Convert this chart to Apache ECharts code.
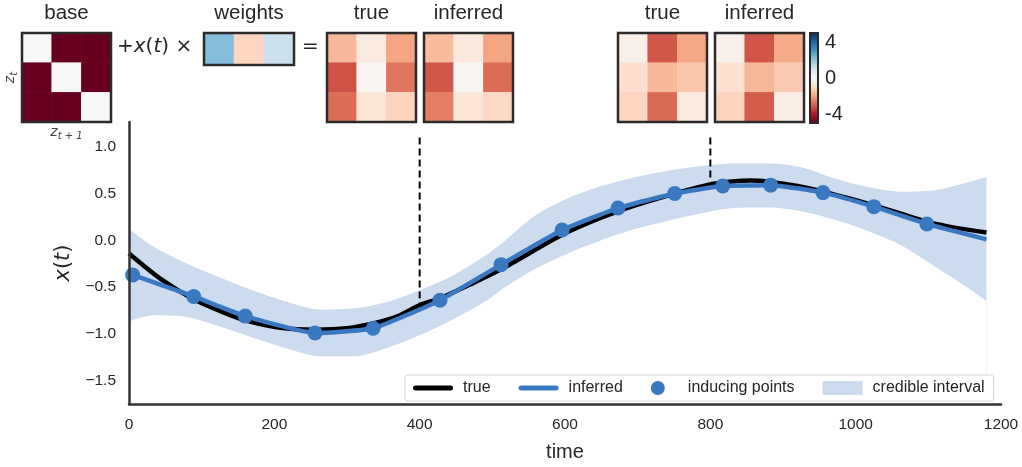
<!DOCTYPE html>
<html><head><meta charset="utf-8">
<script src="https://cdn.jsdelivr.net/npm/echarts@6/dist/echarts.min.js"></script>
<style>html,body{margin:0;padding:0;background:#fff}#c{width:1022px;height:467px}</style>
</head><body><div id="c"></div>
<script>
// ---------- data ----------
const xTicks = [0, 200, 400, 600, 800, 1000, 1200];
const yTicks = [-1.5, -1.0, -0.5, 0.0, 0.5, 1.0];
const cbarTicks = [-4, 0, 4];

const trueT = [0, 45, 89, 130, 160, 208, 256, 300, 336, 370, 401, 428, 470, 512, 555, 596, 636, 673, 712, 751, 780, 804, 830, 855, 883, 920, 955, 990, 1025, 1060, 1098, 1140, 1180];
const trueX = [-0.14, -0.42, -0.63, -0.77, -0.856, -0.935, -0.955, -0.94, -0.89, -0.81, -0.69, -0.62, -0.47, -0.31, -0.12, 0.06, 0.2, 0.31, 0.41, 0.50, 0.56, 0.605, 0.63, 0.64, 0.625, 0.58, 0.52, 0.45, 0.373, 0.29, 0.20, 0.13, 0.084];

const infT = [0, 5, 89, 160, 256, 336, 428, 512, 596, 673, 751, 817, 883, 955, 1025, 1098, 1180];
const infX = [-0.36, -0.37, -0.60, -0.81, -0.99, -0.94, -0.64, -0.26, 0.11, 0.345, 0.50, 0.58, 0.59, 0.51, 0.36, 0.175, 0.01];

const indT = [5, 89, 160, 256, 336, 428, 512, 596, 673, 751, 817, 883, 955, 1025, 1098];
const indX = [-0.37, -0.60, -0.81, -0.99, -0.94, -0.64, -0.26, 0.11, 0.345, 0.50, 0.58, 0.59, 0.51, 0.36, 0.175];

const bandT  = [0, 34, 80, 126, 172, 218, 263, 309, 355, 401, 447, 493, 512, 558, 604, 650, 696, 742, 788, 834, 880, 925, 971, 1017, 1063, 1109, 1155, 1180];
const bandHi = [0.12, -0.07, -0.25, -0.40, -0.54, -0.66, -0.74, -0.73, -0.66, -0.53, -0.37, -0.15, -0.04, 0.26, 0.45, 0.58, 0.675, 0.745, 0.795, 0.82, 0.82, 0.78, 0.66, 0.57, 0.52, 0.535, 0.62, 0.68];
const bandLo = [-0.865, -0.80, -0.82, -0.925, -1.045, -1.16, -1.24, -1.24, -1.15, -1.01, -0.84, -0.64, -0.53, -0.31, -0.14, 0.0, 0.12, 0.21, 0.29, 0.345, 0.35, 0.31, 0.22, 0.10, -0.055, -0.28, -0.51, -0.65];

const dashT = [400, 800];
const dashTop = [1.1, 1.1];
const dashBot = [-0.685, 0.63];

const baseMat = [[0, -5, -5], [-5, 0, -5], [-5, -5, 0]];
const weightsVec = [2.15, -1.1, 1.1];
const true400 = [[-1.65, -0.5, -2.0], [-3.2, -0.1, -2.7], [-2.8, -0.68, -1.15]];
const inf400  = [[-1.6, -0.55, -2.0], [-3.1, -0.1, -2.8], [-2.55, -0.65, -1.05]];
const true800 = [[-0.3, -3.1, -1.95], [-0.85, -1.65, -1.4], [-1.1, -2.85, -0.5]];
const inf800  = [[-0.25, -3.15, -1.9], [-0.8, -1.65, -1.3], [-1.15, -3.05, -0.4]];

const rdbu = ['#67001f', '#b2182b', '#d6604d', '#f4a582', '#fddbc7', '#f7f7f7', '#d1e5f0', '#92c5de', '#4393c3', '#2166ac', '#053061'];

// ---------- build ----------
const FONT = 'Liberation Sans, Arial, sans-serif';
const MATH = 'DejaVu Sans, sans-serif';
const TXT = '#262626';
const BLUE = '#3a78c2';
const BAND = '#ccdcee';
const zip = (a, b) => a.map((v, i) => [v, b[i]]);
const minus = s => s.replace('-', '\u2212');

const insets = [
  { name: 'base', mat: baseMat, box: [22, 33, 89, 89] },
  { name: 'weights', mat: [weightsVec], box: [204, 33, 90, 32] },
  { name: 'true', mat: true400, box: [327, 33, 89, 89] },
  { name: 'inferred', mat: inf400, box: [424, 33, 89, 89] },
  { name: 'true', mat: true800, box: [618, 33, 89, 89] },
  { name: 'inferred', mat: inf800, box: [715, 33, 89, 89] }
];

const grids = [{ left: 129, top: 122, width: 872, height: 288, show: false }];
const xAxes = [{
  gridIndex: 0, type: 'value', min: xTicks[0], max: xTicks[xTicks.length - 1], interval: 200, z: 10,
  axisLine: { show: true, onZero: false, lineStyle: { color: '#333', width: 2.5 } },
  axisTick: { show: false }, splitLine: { show: false },
  axisLabel: { fontSize: 15.5, color: TXT, margin: 13, fontFamily: FONT, formatter: v => String(v) },
  name: 'time', nameLocation: 'middle', nameGap: 38,
  nameTextStyle: { fontSize: 20, color: TXT, fontFamily: FONT }
}];
const yAxes = [{
  gridIndex: 0, type: 'value', min: -1.75, max: 1.265, z: 10,
  axisLine: { show: true, onZero: false, lineStyle: { color: '#333', width: 2.5 } },
  axisTick: { show: false }, splitLine: { show: false },
  axisLabel: { customValues: yTicks, fontSize: 15.5, color: TXT, margin: 13, fontFamily: FONT,
    formatter: v => minus(Number(v).toFixed(1)) },
  name: '{i|x}{n|(}{i|t}{n|)}', nameLocation: 'middle', nameGap: 42, nameRotate: 90,
  nameTextStyle: { rich: {
    i: { fontSize: 21, fontStyle: 'italic', fontFamily: MATH, color: TXT },
    n: { fontSize: 21, fontFamily: MATH, color: TXT } } }
}];

const series = [
  // credible interval: filled from the upper bound down, then masked below the lower bound
  { name: 'credible interval', type: 'line', color: BAND, data: zip(bandT, bandHi), symbol: 'none',
    smooth: 0.3, lineStyle: { width: 0, opacity: 0 }, areaStyle: { color: BAND, opacity: 1, origin: 'start' },
    silent: true, z: 1 },
  { name: '_bandLower', type: 'line', color: '#fff', data: zip(bandT, bandLo), symbol: 'none',
    smooth: 0.3, lineStyle: { width: 0, opacity: 0 }, areaStyle: { color: '#fff', opacity: 1, origin: 'start' },
    silent: true, z: 2 },
  { name: 'true', type: 'line', color: '#000', data: zip(trueT, trueX), symbol: 'none', smooth: 0.3,
    lineStyle: { width: 4.5, color: '#000' }, z: 4 },
  { name: 'inferred', type: 'line', color: BLUE, data: zip(infT, infX), symbol: 'none', smooth: 0.15,
    lineStyle: { width: 4.5, color: BLUE }, z: 5 },
  { name: 'inducing points', type: 'scatter', color: BLUE, data: zip(indT, indX), symbolSize: 15,
    itemStyle: { color: BLUE, opacity: 1 }, z: 6 }
];
dashT.forEach((t, i) => {
  series.push({ name: '_dash' + i, type: 'line', data: [[t, dashTop[i]], [t, dashBot[i]]], symbol: 'none',
    lineStyle: { color: '#000', width: 2, type: [7, 4] }, silent: true, z: 3 });
});

const heatIdx = [];
const zRich = {
  i: { fontSize: 14, fontStyle: 'italic', fontFamily: MATH, color: '#444' },
  s: { fontSize: 10, fontStyle: 'italic', fontFamily: MATH, color: '#444', padding: [8, 0, 0, 0] }
};
insets.forEach((ins, k) => {
  const g = k + 1;
  const [l, t, w, h] = ins.box;
  grids.push({ left: l, top: t, width: w, height: h, show: true, backgroundColor: 'transparent',
    borderColor: '#2b2b2b', borderWidth: 2.5, z: 10 });
  const cols = ins.mat[0].map((_, j) => String(j));
  const rows = ins.mat.map((_, j) => String(j));
  xAxes.push({ gridIndex: g, type: 'category', data: cols, position: 'top',
    axisLine: { show: false }, axisTick: { show: false }, axisLabel: { show: false }, splitLine: { show: false },
    name: ins.name, nameLocation: 'middle', nameGap: 9,
    nameTextStyle: { fontSize: 20.5, color: TXT, fontFamily: FONT } });
  const ya = { gridIndex: g, type: 'category', data: rows, inverse: true,
    axisLine: { show: false }, axisTick: { show: false }, axisLabel: { show: false }, splitLine: { show: false } };
  if (k === 0) {
    Object.assign(ya, { name: '{i|z}{s|t}', nameLocation: 'middle', nameGap: 3, nameRotate: 90,
      nameTextStyle: { rich: zRich } });
  }
  yAxes.push(ya);
  const data = [];
  ins.mat.forEach((row, r) => row.forEach((v, c) => data.push([c, r, v])));
  heatIdx.push(series.length);
  series.push({ type: 'heatmap', xAxisIndex: xAxes.length - 1, yAxisIndex: yAxes.length - 1, data,
    itemStyle: { borderWidth: 0 }, emphasis: { disabled: true }, silent: true, z: 2 });
  if (k === 0) {
    xAxes.push({ gridIndex: g, type: 'category', data: cols, position: 'bottom',
      axisLine: { show: false }, axisTick: { show: false }, axisLabel: { show: false }, splitLine: { show: false },
      name: '{i|z}{s|t + 1}', nameLocation: 'middle', nameGap: 1,
      nameTextStyle: { rich: zRich } });
  }
});

// colorbar grid (labels + frame)
const cbGrid = grids.length;
grids.push({ left: 810, top: 33, width: 8, height: 90, show: true, backgroundColor: 'transparent',
  borderColor: '#2b2b2b', borderWidth: 2, z: 10 });
xAxes.push({ gridIndex: cbGrid, type: 'value', show: false, min: 0, max: 1 });
yAxes.push({ gridIndex: cbGrid, type: 'value', min: -5, max: 5, position: 'right',
  axisLine: { show: false }, axisTick: { show: false }, splitLine: { show: false },
  axisLabel: { customValues: cbarTicks, fontSize: 20, color: TXT, margin: 7, fontFamily: FONT,
    formatter: v => String(v) } });

const lineIcon = 'path://M2.5,0 H37.5 A2.5,2.5 0 0 1 37.5,5 H2.5 A2.5,2.5 0 0 1 2.5,0 Z';

const option = {
  animation: false,
  backgroundColor: '#fff',
  grid: grids,
  xAxis: xAxes,
  yAxis: yAxes,
  visualMap: {
    type: 'continuous', min: -5, max: 5, seriesIndex: heatIdx, inRange: { color: rdbu },
    left: 810, top: 33, itemWidth: 8, itemHeight: 90, padding: 0, calculable: false,
    orient: 'vertical', show: true, hoverLink: false
  },
  legend: {
    left: 405, top: 375, orient: 'horizontal', selectedMode: false, z: 20,
    itemWidth: 40, itemHeight: 14, itemGap: 28, padding: [5, 9, 5, 8],
    backgroundColor: '#fff', borderColor: '#d4d4d4', borderWidth: 1, borderRadius: 3,
    textStyle: { fontSize: 16, color: TXT, fontFamily: FONT, padding: [0, 0, 0, 5] },
    data: [
      { name: 'true', icon: lineIcon, itemStyle: { color: '#000', borderWidth: 0 } },
      { name: 'inferred', icon: lineIcon, itemStyle: { color: BLUE, borderWidth: 0 } },
      { name: 'inducing points', icon: 'circle', itemStyle: { color: BLUE, borderWidth: 0 } },
      { name: 'credible interval', icon: 'rect', itemStyle: { color: BAND, borderWidth: 0 } }
    ]
  },
  graphic: [
    { type: 'text', left: 117, top: 37, style: {
      text: '{n|+}{i|x}{n|(}{i|t}{n|) \u00d7}',
      rich: { n: { fontSize: 20, fontFamily: MATH, fill: TXT }, i: { fontSize: 20, fontFamily: MATH, fontStyle: 'italic', fill: TXT } } } },
    { type: 'text', left: 302, top: 37, style: { text: '=', fontSize: 20, fontFamily: MATH, fill: TXT } }
  ],
  series
};
const chart = echarts.init(document.getElementById('c'));
chart.setOption(option);
</script>
</body></html>
